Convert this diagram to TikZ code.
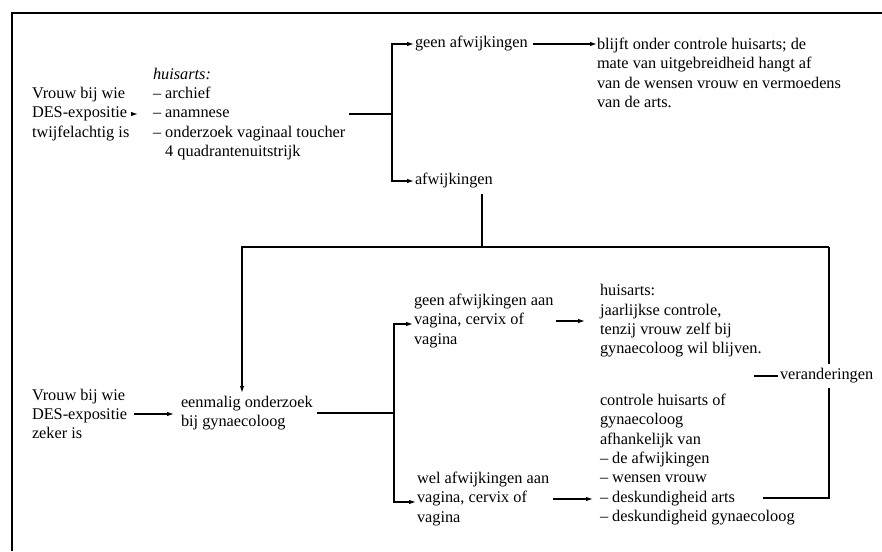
\documentclass[tikz,border=0pt]{standalone}
\usepackage{fontspec}
\setmainfont{Liberation Serif}
\usetikzlibrary{arrows.meta}
\begin{document}
\begin{tikzpicture}[x=1pt,y=-1pt,
  txt/.style={inner sep=0pt, outer sep=0pt, align=left, anchor=west, font=\fontsize{16.3pt}{19.3pt}\selectfont},
  ln/.style={line width=1.2pt},
  arr/.style={ln, -{Latex[length=7pt,width=4.5pt]}}]
\useasboundingbox (0,0) rectangle (882,551);
% frame
\draw[line width=1.5pt] (882,13) -- (12,13) -- (12,551);
% top part
\node[txt] (v1) at (32,114) {Vrouw bij wie\\DES-expositie\\twijfelachtig is};
\node[txt] (h1) at (153,114) {\textit{huisarts:}\\– archief\\– anamnese\\– onderzoek vaginaal toucher\\\hphantom{–\ }4 quadrantenuitstrijk};
\node[txt] (g1) at (415,44) {geen afwijkingen};
\node[txt] (a1) at (415,181) {afwijkingen};
\node[txt] (b1) at (597,73) {blijft onder controle huisarts; de\\mate van uitgebreidheid hangt af\\van de wensen vrouw en vermoedens\\van de arts.};
\coordinate (j1) at (392,114);
\draw[arr] ([xshift=3pt]v1.east) -- ([xshift=-15pt]h1.west);
\draw[ln] ([xshift=4pt]h1.east) -- (j1);
\draw[arr, shorten >=1pt] (j1) |- (g1.west);
\draw[arr, shorten >=1pt] (j1) |- (a1.west);
\draw[arr] ([xshift=5pt]g1.east) -- (b1.west |- g1.east);
% middle connections
\coordinate (j2) at (482,247);
\coordinate (tl) at (242,247);
\coordinate (tr) at (829,247);
\node[txt] (e1) at (181,413) {eenmalig onderzoek\\bij gynaecoloog};
\draw[ln] ([yshift=-6pt]a1.south -| j2) -- (j2);
\draw[arr, shorten >=3pt] (tr) -- (tl) -- (tl |- e1.north);
\node[txt] (ver) at (780,376) {veranderingen};
\coordinate (br) at (829,498);
\coordinate (darts) at (763,498);
\draw[ln] (tr) -- ([yshift=5pt]tr |- ver.north);
\draw[ln] ([yshift=-5pt]tr |- ver.south) -- (br) -- (darts);
\draw[ln] ([xshift=-26pt]ver.west) -- ([xshift=-2pt]ver.west);
% bottom part
\node[txt] (v2) at (32,414) {Vrouw bij wie\\DES-expositie\\zeker is};
\draw[arr] ([xshift=7pt]v2.east) -- ([xshift=-7pt]e1.west |- v2.east);
\coordinate (j3) at (394,413);
\draw[ln] ([xshift=4pt]e1.east) -- (j3);
\node[txt] (n1) at (414,321) {geen afwijkingen aan\\vagina, cervix of\\vagina};
\node[txt] (n2) at (417,499) {wel afwijkingen aan\\vagina, cervix of\\vagina};
\draw[arr, shorten >=1pt] (j3) |- ([yshift=-3pt]n1.west);
\draw[arr, shorten >=1pt] (j3) |- ([yshift=-3pt]n2.west);
\node[txt] (c1) at (600,321) {huisarts:\\jaarlijkse controle,\\tenzij vrouw zelf bij\\gynaecoloog wil blijven.};
\node[txt] (c2) at (600,459.5) {controle huisarts of\\gynaecoloog\\afhankelijk van\\– de afwijkingen\\– wensen vrouw\\– deskundigheid arts\\– deskundigheid gynaecoloog};
\draw[arr] ([xshift=3pt]n1.east) -- ([xshift=-15pt]c1.west |- n1.east);
\draw[arr] ([xshift=4pt]n2.east) -- ([xshift=-7pt]c2.west |- n2.east);
\end{tikzpicture}
\end{document}
